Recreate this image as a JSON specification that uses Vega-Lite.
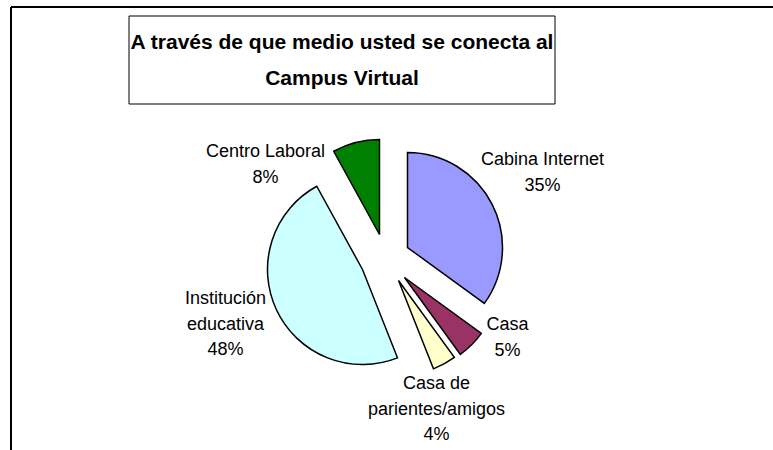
{
  "$schema": "https://vega.github.io/schema/vega-lite/v6.json",
  "width": 700,
  "height": 443,
  "autosize": {"type": "none"},
  "padding": {"left": 11, "top": 7, "right": 62, "bottom": 0},
  "background": "white",
  "view": {"stroke": "transparent"},
  "config": {
    "view": {"stroke": "transparent"},
    "text": {"font": "Liberation Sans", "fontSize": 18, "color": "black"}
  },
  "title": {
    "text": ["A través de que medio usted se conecta al", "Campus Virtual"],
    "font": "Liberation Sans",
    "fontSize": 21,
    "fontWeight": "bold",
    "color": "black",
    "anchor": "start",
    "frame": "group",
    "align": "center",
    "baseline": "top",
    "offset": -83,
    "dx": 331,
    "lineHeight": 36
  },
  "data": {
    "values": [
      {"medio": "Cabina Internet", "etiqueta": "Cabina Internet", "pct": 35, "orden": 1},
      {"medio": "Casa", "etiqueta": "Casa", "pct": 5, "orden": 2},
      {"medio": "Casa de parientes/amigos", "etiqueta": "Casa de\nparientes/amigos", "pct": 4, "orden": 3},
      {"medio": "Institución educativa", "etiqueta": "Institución\neducativa", "pct": 48, "orden": 4},
      {"medio": "Centro Laboral", "etiqueta": "Centro Laboral", "pct": 8, "orden": 5}
    ]
  },
  "transform": [
    {"window": [{"op": "sum", "field": "pct", "as": "fin"}], "sort": [{"field": "orden"}], "frame": [null, 0]},
    {"calculate": "datum.fin - datum.pct", "as": "inicio"},
    {"calculate": "datum.fin - datum.pct / 2", "as": "medio_ang"},
    {"calculate": "datum.etiqueta + '\\n' + datum.pct + '%'", "as": "rotulo"}
  ],
  "layer": [
    {
      "data": {"values": [{"marco": 1}]},
      "transform": [],
      "mark": {"type": "rule", "stroke": "black", "strokeWidth": 2},
      "encoding": {"x": {"value": 0}, "x2": {"value": 800}, "y": {"value": 0}}
    },
    {
      "data": {"values": [{"marco": 1}]},
      "transform": [],
      "mark": {"type": "rule", "stroke": "black", "strokeWidth": 2},
      "encoding": {"x": {"value": 0}, "y": {"value": 0}, "y2": {"value": 500}}
    },
    {
      "data": {"values": [{"caja": 1}]},
      "transform": [],
      "mark": {"type": "rect", "filled": false, "stroke": "black", "strokeWidth": 1},
      "encoding": {"x": {"value": 118}, "x2": {"value": 544}, "y": {"value": 9}, "y2": {"value": 97}}
    },
    {
      "transform": [{"filter": "datum.orden == 1"}],
      "mark": {"type": "arc", "radius": 95, "stroke": "black", "strokeWidth": 1.5, "xOffset": 46.5, "yOffset": 19},
      "encoding": {
        "theta": {"field": "inicio", "type": "quantitative", "scale": {"domain": [0, 100]}},
        "theta2": {"field": "fin"},
        "color": {"field": "medio", "type": "nominal", "legend": null,
          "scale": {"domain": ["Cabina Internet", "Casa", "Casa de parientes/amigos", "Institución educativa", "Centro Laboral"],
                    "range": ["#9999FF", "#993366", "#FFFFCC", "#CCFFFF", "#008000"]}}
      }
    },
    {
      "transform": [{"filter": "datum.orden == 2"}],
      "mark": {"type": "arc", "radius": 95, "stroke": "black", "strokeWidth": 1.5, "xOffset": 43.5, "yOffset": 49},
      "encoding": {
        "theta": {"field": "inicio", "type": "quantitative", "scale": {"domain": [0, 100]}},
        "theta2": {"field": "fin"},
        "color": {"field": "medio", "type": "nominal", "legend": null}
      }
    },
    {
      "transform": [{"filter": "datum.orden == 3"}],
      "mark": {"type": "arc", "radius": 95, "stroke": "black", "strokeWidth": 1.5, "xOffset": 37.5, "yOffset": 52},
      "encoding": {
        "theta": {"field": "inicio", "type": "quantitative", "scale": {"domain": [0, 100]}},
        "theta2": {"field": "fin"},
        "color": {"field": "medio", "type": "nominal", "legend": null}
      }
    },
    {
      "transform": [{"filter": "datum.orden == 4"}],
      "mark": {"type": "arc", "radius": 95, "stroke": "black", "strokeWidth": 1.5, "xOffset": 1.5, "yOffset": 41},
      "encoding": {
        "theta": {"field": "inicio", "type": "quantitative", "scale": {"domain": [0, 100]}},
        "theta2": {"field": "fin"},
        "color": {"field": "medio", "type": "nominal", "legend": null}
      }
    },
    {
      "transform": [{"filter": "datum.orden == 5"}],
      "mark": {"type": "arc", "radius": 95, "stroke": "black", "strokeWidth": 1.5, "xOffset": 18.5, "yOffset": 6},
      "encoding": {
        "theta": {"field": "inicio", "type": "quantitative", "scale": {"domain": [0, 100]}},
        "theta2": {"field": "fin"},
        "color": {"field": "medio", "type": "nominal", "legend": null}
      }
    },
    {
      "transform": [{"filter": "datum.orden == 1"}],
      "mark": {"type": "text", "radius": 170, "xOffset": 30, "yOffset": 9, "lineBreak": "\n", "lineHeight": 26, "baseline": "middle", "align": "center"},
      "encoding": {
        "theta": {"field": "medio_ang", "type": "quantitative", "stack": null, "scale": {"domain": [0, 100]}},
        "text": {"field": "rotulo"}
      }
    },
    {
      "transform": [{"filter": "datum.orden == 2"}],
      "mark": {"type": "text", "radius": 140, "xOffset": 47.5, "yOffset": -2.5, "lineBreak": "\n", "lineHeight": 26, "baseline": "middle", "align": "center"},
      "encoding": {
        "theta": {"field": "medio_ang", "type": "quantitative", "stack": null, "scale": {"domain": [0, 100]}},
        "text": {"field": "rotulo"}
      }
    },
    {
      "transform": [{"filter": "datum.orden == 3"}],
      "mark": {"type": "text", "radius": 170, "xOffset": -6.4, "yOffset": 6.6, "lineBreak": "\n", "lineHeight": 25.5, "baseline": "middle", "align": "center"},
      "encoding": {
        "theta": {"field": "medio_ang", "type": "quantitative", "stack": null, "scale": {"domain": [0, 100]}},
        "text": {"field": "rotulo"}
      }
    },
    {
      "transform": [{"filter": "datum.orden == 4"}],
      "mark": {"type": "text", "radius": 170, "xOffset": 18.4, "yOffset": -1.4, "lineBreak": "\n", "lineHeight": 25.5, "baseline": "middle", "align": "center"},
      "encoding": {
        "theta": {"field": "medio_ang", "type": "quantitative", "stack": null, "scale": {"domain": [0, 100]}},
        "text": {"field": "rotulo"}
      }
    },
    {
      "transform": [{"filter": "datum.orden == 5"}],
      "mark": {"type": "text", "radius": 100, "xOffset": -70.6, "yOffset": 19.9, "lineBreak": "\n", "lineHeight": 26, "baseline": "middle", "align": "center"},
      "encoding": {
        "theta": {"field": "medio_ang", "type": "quantitative", "stack": null, "scale": {"domain": [0, 100]}},
        "text": {"field": "rotulo"}
      }
    }
  ]
}
